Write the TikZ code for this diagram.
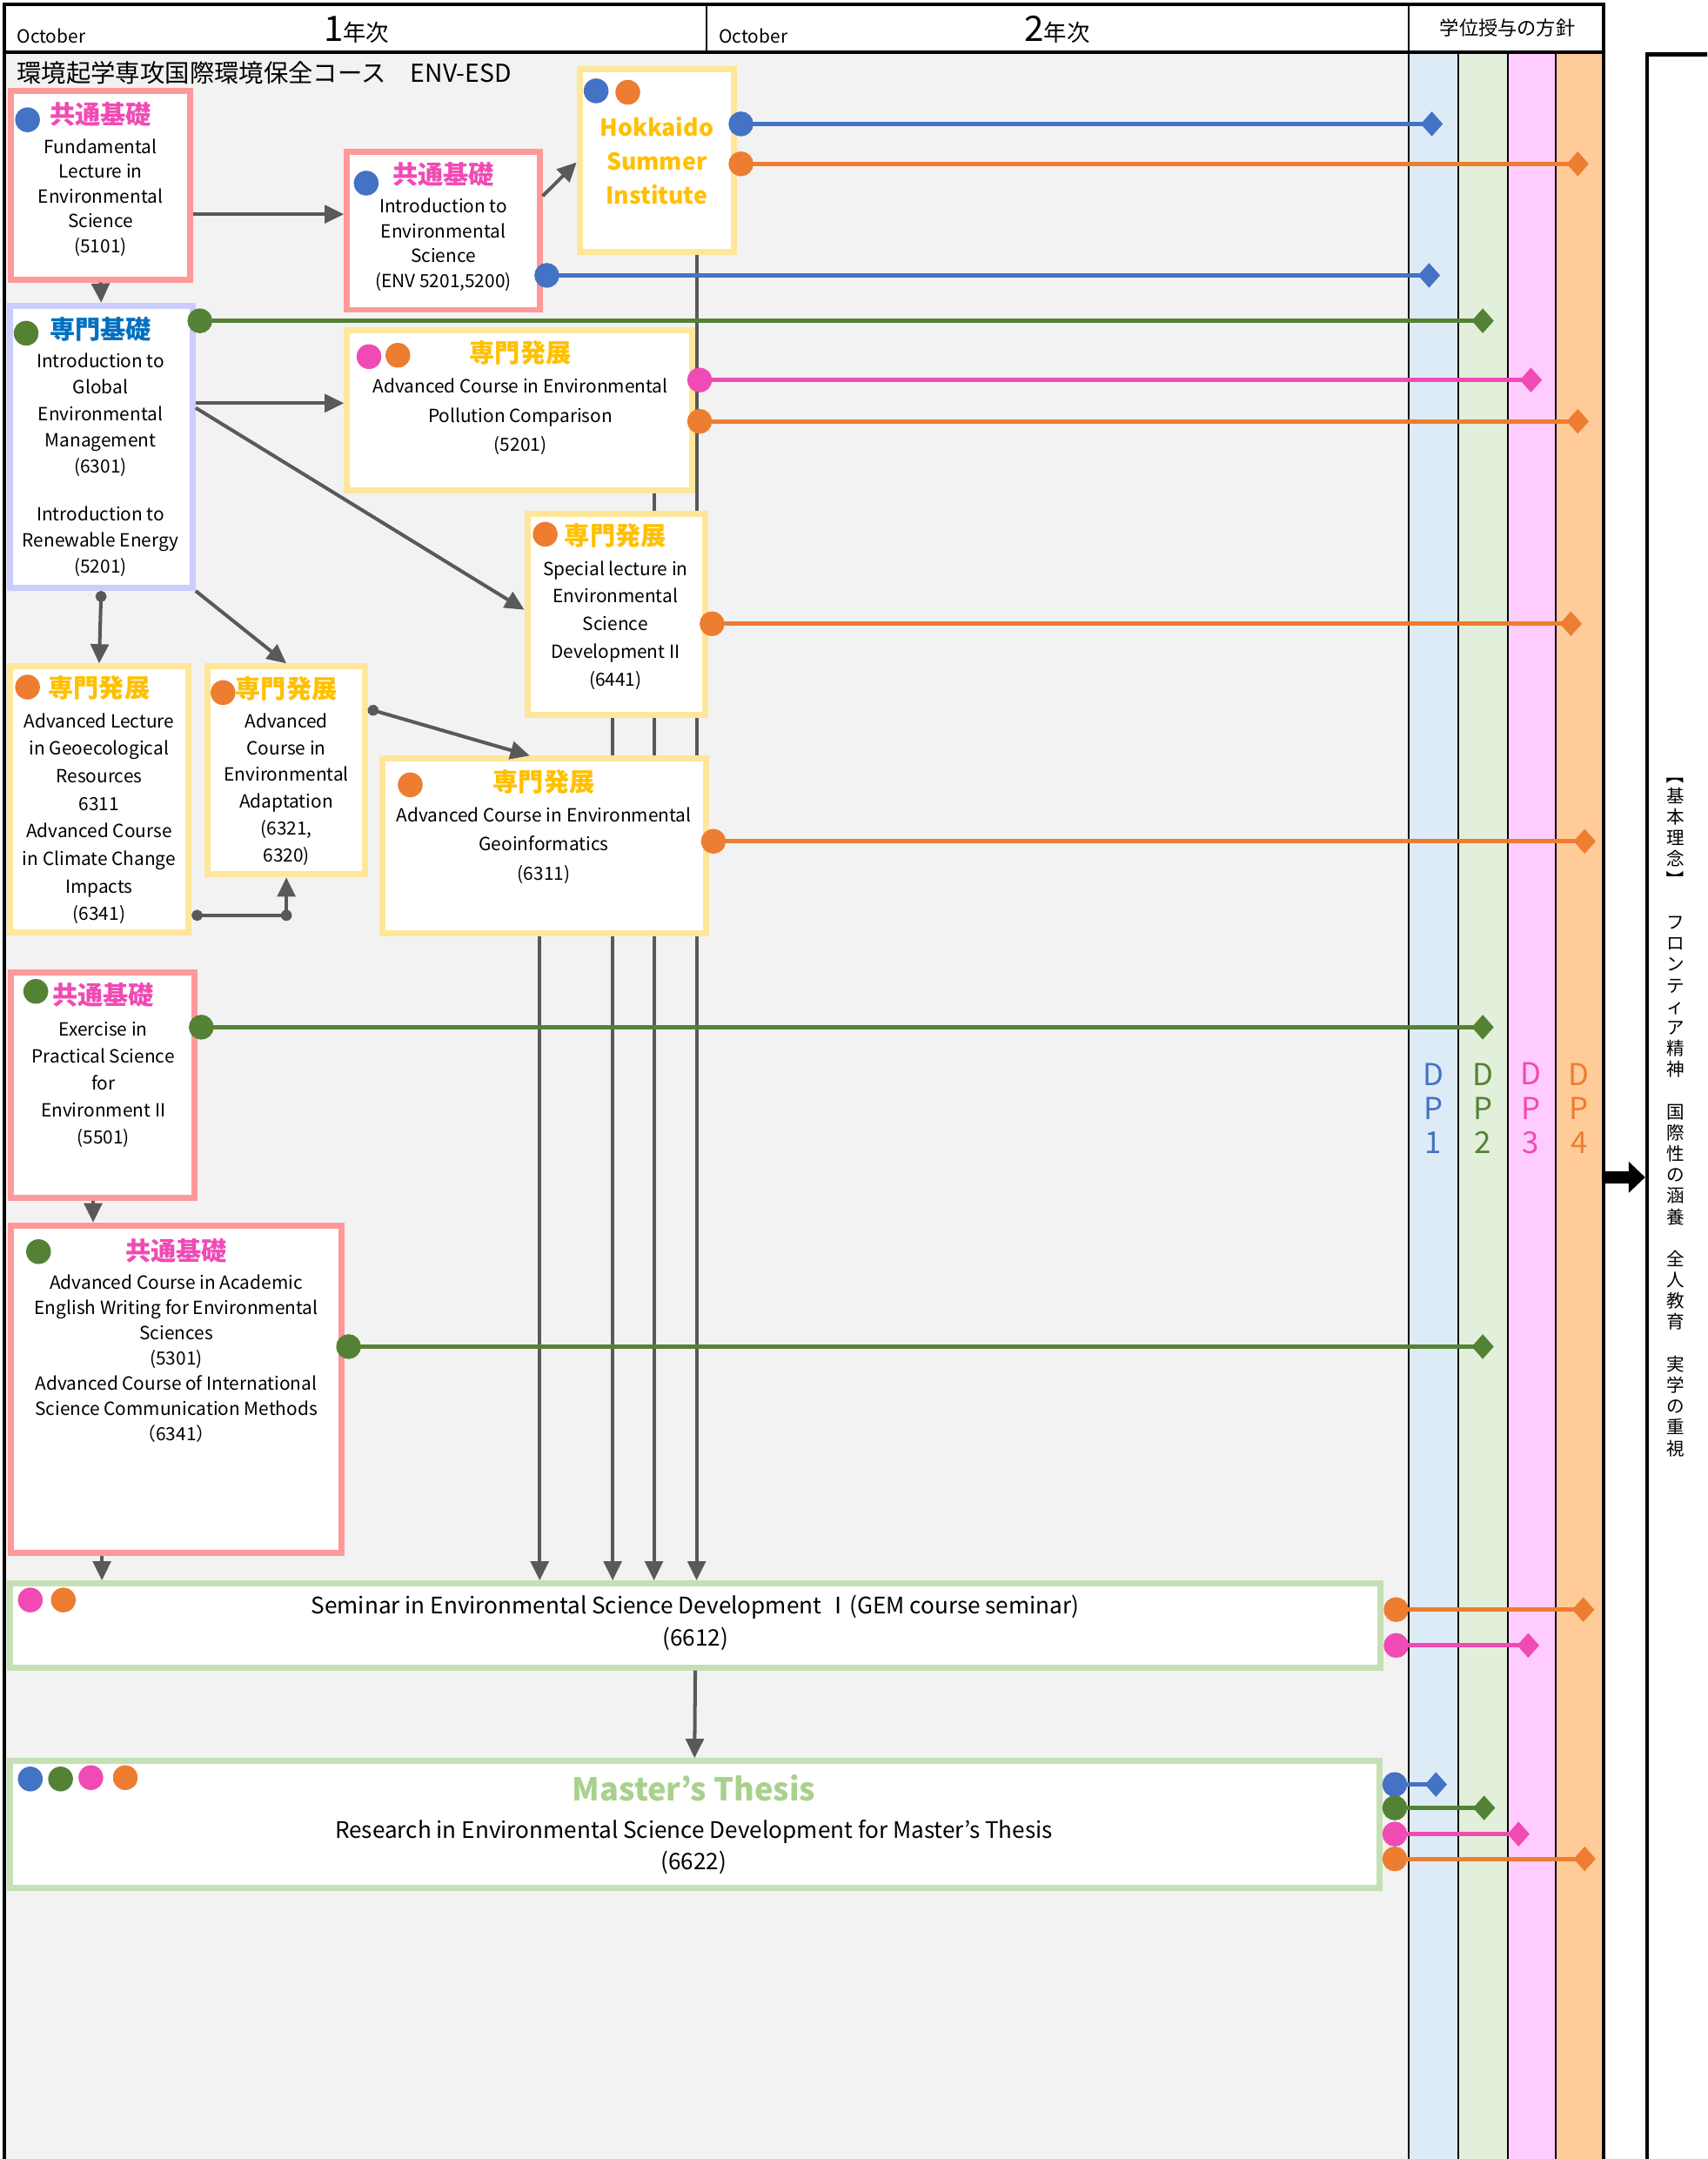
\documentclass[tikz,border=0pt]{standalone}
\usepackage{fontspec}
\usepackage{graphicx}
\setmainfont{Noto Sans CJK JP}
\usetikzlibrary{arrows.meta,calc,positioning}
\pgfdeclarelayer{back}
\pgfdeclarelayer{mid}
\pgfsetlayers{back,mid,main}

\definecolor{kpink}{HTML}{F04BB4}
\definecolor{kblue}{HTML}{4472C4}
\definecolor{kgreen}{HTML}{548235}
\definecolor{korange}{HTML}{ED7D31}
\definecolor{kgold}{HTML}{FFC000}
\definecolor{kteal}{HTML}{0070C0}
\definecolor{bpink}{HTML}{FF9999}
\definecolor{byellow}{HTML}{FFE699}
\definecolor{blav}{HTML}{CCCCFF}
\definecolor{bgreen}{HTML}{C5E0B4}
\definecolor{mgreen}{HTML}{A9D18E}
\definecolor{bggray}{HTML}{F2F2F2}
\definecolor{dpone}{HTML}{DDEBF7}
\definecolor{dptwo}{HTML}{E2EFDA}
\definecolor{dpthree}{HTML}{FFCCFF}
\definecolor{dpfour}{HTML}{FFCC99}
\definecolor{agray}{HTML}{595959}

\newcommand{\kyotsu}{{\fontsize{10.5}{10.5}\selectfont\bfseries\color{kpink}共通基礎}}
\newcommand{\kisob}{{\fontsize{10.5}{10.5}\selectfont\bfseries\color{kteal}専門基礎}}
\newcommand{\hatten}{{\fontsize{10.5}{10.5}\selectfont\bfseries\color{kgold}専門発展}}
\newcommand{\vbrack}[1]{\rotatebox[origin=c]{-90}{#1}}

\begin{document}
\begin{tikzpicture}[x=0.02cm,y=-0.02cm,
  box/.style={draw,fill=white,line width=2.5pt,inner sep=0pt},
  pinkbox/.style={box,draw=bpink},
  yelbox/.style={box,draw=byellow},
  lavbox/.style={box,draw=blav},
  grnbox/.style={box,draw=bgreen},
  txt/.style={align=center,inner sep=0pt,font=\fontsize{7.5}{#1}\selectfont},
  txt/.default=10.5pt,
  dot/.style={circle,fill=#1,inner sep=0pt,minimum size=0.36cm},
  jdot/.style={circle,fill=agray,inner sep=0pt,minimum size=0.16cm},
  arr/.style={draw=agray,line width=1.45pt,-{Triangle[length=0.28cm,width=0.26cm]}},
  darr/.style={arr,{Circle[length=0.16cm]}-{Triangle[length=0.28cm,width=0.26cm]}},
  dp/.style={draw=#1,line width=1.8pt,{Circle[length=0.36cm]}-{Diamond[length=0.32cm,width=0.36cm]},shorten <=-0.12cm},
  hdr/.style={inner sep=0pt,font=\fontsize{7.5}{7.5}\selectfont},
  dplab/.style={align=center,inner sep=0pt,text=#1,font=\fontsize{12.5}{14.2}\selectfont},
]
\useasboundingbox (0,0) rectangle (1240,1568);
\clip (0,0) rectangle (1240,1568);

% frame and DP columns
\begin{pgfonlayer}{back}
\fill[white] (0,0) rectangle (1240,1568);
\fill[white] (3,3) rectangle (1165,38);
\fill[bggray] (3,38) rectangle (1023,1580);
\fill[dpone] (1023,38) rectangle (1059,1580);
\fill[dptwo] (1059,38) rectangle (1095,1580);
\fill[dpthree] (1095,38) rectangle (1130,1580);
\fill[dpfour] (1130,38) rectangle (1165,1580);
\foreach \x in {1059,1095,1130}
  \draw[line width=0.7pt] (\x,38) -- (\x,1568);
\draw[line width=0.7pt] (1023,3) -- (1023,1568);
\draw[line width=0.7pt] (513,3) -- (513,38);
\draw[line width=1.5pt] (3,1568) -- (3,3) -- (1165,3) -- (1165,1568);
\draw[line width=1.5pt] (3,38) -- (1165,38);
\end{pgfonlayer}

\node[hdr,anchor=base west] (oct1) at (12,31) {October};
\node[inner sep=0pt,anchor=base] (yr1) at (259,30) {{\fontsize{14.5}{14}\selectfont 1}{\fontsize{9.5}{9.5}\selectfont 年次}};
\node[hdr,anchor=base west] (oct2) at (522,31) {October};
\node[inner sep=0pt,anchor=base] (yr2) at (768,30) {{\fontsize{14.5}{14}\selectfont 2}{\fontsize{9.5}{9.5}\selectfont 年次}};
\node[inner sep=0pt,font=\fontsize{8}{8}\selectfont] (dpttl) at (1095,20) {学位授与の方針};
\node[anchor=west,inner sep=0pt,font=\fontsize{10.2}{10.2}\selectfont] (course) at (12,53) {環境起学専攻国際環境保全コース　ENV-ESD};

\node[dplab=kblue] (dp1) at (1041,805) {D\\P\\1};
\node[dplab=kgreen] (dp2) at (1077,805) {D\\P\\2};
\node[dplab=kpink] (dp3) at (1112,805) {D\\P\\3};
\node[dplab=korange] (dp4) at (1147,805) {D\\P\\4};

% right panel
\node[draw,line width=1.6pt,fill=white,inner sep=0pt,anchor=north west,minimum width=1.9cm,minimum height=31.3cm] (rbox) at (1195,38) {};
\node[align=center,inner sep=0pt,font=\fontsize{7.4}{8.7}\selectfont] (rinen) at (1217,807)
  {\vbrack{【}\\基\\本\\理\\念\\\vbrack{】}\\[8.7pt]フ\\ロ\\ン\\テ\\ィ\\ア\\精\\神\\[8.7pt]国\\際\\性\\の\\涵\\養\\[8.7pt]全\\人\\教\\育\\[8.7pt]実\\学\\の\\重\\視};
\coordinate (dpout) at (1165,855);
\draw[line width=5pt,-{Triangle[length=0.24cm,width=0.44cm]}] (dpout) -- (rbox.west |- dpout);

% boxes
\node[pinkbox,minimum width=2.60cm,minimum height=2.74cm] (b1) at (73,134.5) {};
\node[pinkbox,minimum width=2.80cm,minimum height=2.30cm] (b2) at (322,167.5) {};
\node[yelbox,minimum width=2.24cm,minimum height=2.66cm] (b3) at (477,116.5) {};
\node[lavbox,minimum width=2.66cm,minimum height=4.10cm] (b4) at (73.5,324.5) {};
\node[yelbox,minimum width=5.02cm,minimum height=2.32cm] (b5) at (377.5,298) {};
\node[yelbox,minimum width=2.58cm,minimum height=2.92cm] (b6) at (447.5,446) {};
\node[yelbox,minimum width=2.60cm,minimum height=3.86cm] (b7) at (72,580.5) {};
\node[yelbox,minimum width=2.28cm,minimum height=3.02cm] (b8) at (208,559.5) {};
\node[yelbox,minimum width=4.70cm,minimum height=2.54cm] (b9) at (395.5,614.5) {};
\node[pinkbox,minimum width=2.66cm,minimum height=3.28cm] (b10) at (74.5,788) {};
\node[pinkbox,minimum width=4.80cm,minimum height=4.76cm] (b11) at (128,1009) {};
\node[grnbox,minimum width=19.92cm,minimum height=1.22cm] (b12) at (505,1180.5) {};
\node[grnbox,minimum width=19.90cm,minimum height=1.84cm] (b13) at (504.5,1325) {};

% long lines down to the seminar, behind the boxes
\begin{pgfonlayer}{mid}
\foreach \s/\x in {b3/506,b5/475,b6/445,b9/392}
  \draw[arr] (\s.south -| \x,0) -- (b12.north -| \x,0);
\end{pgfonlayer}

% texts
\node[txt=10.25pt] (b1t) at (73,130) {\kyotsu\\[2pt]Fundamental\\Lecture in\\Environmental\\Science\\(5101)};
\node[txt=10.25pt] (b2t) at (322,164.5) {\kyotsu\\[1.7pt]Introduction to\\Environmental\\Science\\(ENV 5201,5200)};
\node[align=center,inner sep=0pt,text=kgold,font=\fontsize{9.6}{14}\selectfont\bfseries] (b3t) at (477,116.5) {Hokkaido\\Summer\\Institute};
\node[txt=10.8pt] (b4t) at (73,324.5) {\kisob\\[1.2pt]Introduction to\\Global\\Environmental\\Management\\(6301)\\[9pt]Introduction to\\Renewable Energy\\(5201)};
\node[txt=12pt] (b5t) at (378,289) {\hatten\\[0.5pt]Advanced Course in Environmental\\Pollution Comparison\\(5201)};
\node[txt=11.4pt] (b6t) at (447,440.5) {\hatten\\[1pt]Special lecture in\\Environmental\\Science\\Development II\\(6441)};
\node[txt=11.4pt] (b7t) at (72,581) {\hatten\\[1pt]Advanced Lecture\\in Geoecological\\Resources\\6311\\Advanced Course\\in Climate Change\\Impacts\\(6341)};
\node[txt=11.1pt] (b8t) at (208,560) {\hatten\\[1pt]Advanced\\Course in\\Environmental\\Adaptation\\(6321,\\6320)};
\node[txt=12.2pt] (b9t) at (395,600.5) {\hatten\\[0.3pt]Advanced Course in Environmental\\Geoinformatics\\(6311)};
\node[txt=11.1pt] (b10t) at (75,773.5) {\kyotsu\\[2pt]Exercise in\\Practical Science\\for\\Environment II\\(5501)};
\node[txt=10.4pt] (b11t) at (128,973.5) {\kyotsu\\[1.6pt]Advanced Course in Academic\\English Writing for Environmental\\Sciences\\(5301)\\Advanced Course of International\\Science Communication Methods\\（6341）};
\node[align=center,inner sep=0pt,font=\fontsize{9.4}{13.1}\selectfont] (b12t) at (505,1178.5) {Seminar in Environmental Science Development Ⅰ(GEM course seminar)\\(6612)};
\node[align=center,inner sep=0pt,font=\fontsize{9.4}{13.1}\selectfont] (b13t) at (504,1325) {{\fontsize{13}{13}\selectfont\bfseries\color{mgreen}Master's Thesis}\\[2.3pt]Research in Environmental Science Development for Master's Thesis\\(6622)};

% legend dots
\node[dot=kblue] (b1d) at (20,87) {};
\node[dot=kblue] (b2d) at (266,133) {};
\node[dot=kblue] (b3d1) at (433,66) {};
\node[dot=korange] (b3d2) at (456,67) {};
\node[dot=kgreen] (b4d) at (19,242) {};
\node[dot=kpink] (b5d1) at (268,259) {};
\node[dot=korange] (b5d2) at (289,258) {};
\node[dot=korange] (b6d) at (396,388) {};
\node[dot=korange] (b7d) at (20,499) {};
\node[dot=korange] (b8d) at (162,503) {};
\node[dot=korange] (b9d) at (298,570) {};
\node[dot=kgreen] (b10d) at (26,720) {};
\node[dot=kgreen] (b11d) at (28,909) {};
\node[dot=kpink] (b12d1) at (22,1162) {};
\node[dot=korange] (b12d2) at (46,1162) {};
\node[dot=kblue] (b13d1) at (22,1292) {};
\node[dot=kgreen] (b13d2) at (44,1292) {};
\node[dot=kpink] (b13d3) at (66,1291) {};
\node[dot=korange] (b13d4) at (91,1291) {};

% grey arrows
\coordinate (a12) at ($(b2.north west)!0.4!(b2.south west)$);
\draw[arr] (b1.east |- a12) -- (a12);
\draw[arr] ($(b2.north east)!0.29!(b2.south east)$) -- ($(b3.north west)!0.51!(b3.south west)$);
\draw[arr] (b1.south) -- (b4.north);
\coordinate (a45) at ($(b5.north west)!0.457!(b5.south west)$);
\draw[arr] (b4.east |- a45) -- (a45);
\draw[arr] ($(b4.north east)!0.365!(b4.south east)$) -- ($(b6.north west)!0.479!(b6.south west)$);
\draw[arr] (b4.south east) -- (b8.north);
\draw[darr] (b4.south) -- (b7.north);
\coordinate (c78) at ($(b7.north east)!0.927!(b7.south east)$);
\draw[darr] (c78) -| (b8.south);
\node[jdot] (j78) at (b8.south |- c78) {};
\draw[darr] ($(b8.north east)!0.212!(b8.south east)$) -- ($(b9.north west)!0.455!(b9.north east)$);
\coordinate (a1011) at ($(b10.south west)!0.45!(b10.south east)$);
\draw[arr] (a1011) -- (b11.north -| a1011);
\coordinate (a1112) at ($(b11.south west)!0.279!(b11.south east)$);
\draw[arr] (a1112) -- (b12.north -| a1112);
\draw[arr] (b12.south) -- (b13.north);

% links to DP columns
\coordinate (e1) at (1048,90);
\coordinate (e2) at (1154,119);
\coordinate (e3) at (1046,200);
\coordinate (e4) at (1085,233);
\coordinate (e5) at (1120,276);
\coordinate (e6) at (1154,306);
\coordinate (e7) at (1149,453);
\coordinate (e8) at (1159,611);
\coordinate (e9) at (1085,746);
\coordinate (e10) at (1085,978);
\coordinate (e11) at (1158,1169);
\coordinate (e12) at (1118,1195);
\coordinate (e13) at (1051,1296);
\coordinate (e14) at (1086,1313);
\coordinate (e15) at (1111,1332);
\coordinate (e16) at (1159,1350);
\draw[dp=kblue] (b3.east |- e1) -- (e1);
\draw[dp=korange] (b3.east |- e2) -- (e2);
\draw[dp=kblue] (b2.east |- e3) -- (e3);
\draw[dp=kgreen] (b4.east |- e4) -- (e4);
\draw[dp=kpink] (b5.east |- e5) -- (e5);
\draw[dp=korange] (b5.east |- e6) -- (e6);
\draw[dp=korange] (b6.east |- e7) -- (e7);
\draw[dp=korange] (b9.east |- e8) -- (e8);
\draw[dp=kgreen] (b10.east |- e9) -- (e9);
\draw[dp=kgreen] (b11.east |- e10) -- (e10);
\draw[dp=korange,shorten <=0pt] (b12.east |- e11) -- (e11);
\draw[dp=kpink,shorten <=0pt] (b12.east |- e12) -- (e12);
\draw[dp=kblue,shorten <=0pt] (b13.east |- e13) -- (e13);
\draw[dp=kgreen,shorten <=0pt] (b13.east |- e14) -- (e14);
\draw[dp=kpink,shorten <=0pt] (b13.east |- e15) -- (e15);
\draw[dp=korange,shorten <=0pt] (b13.east |- e16) -- (e16);
\end{tikzpicture}
\end{document}
